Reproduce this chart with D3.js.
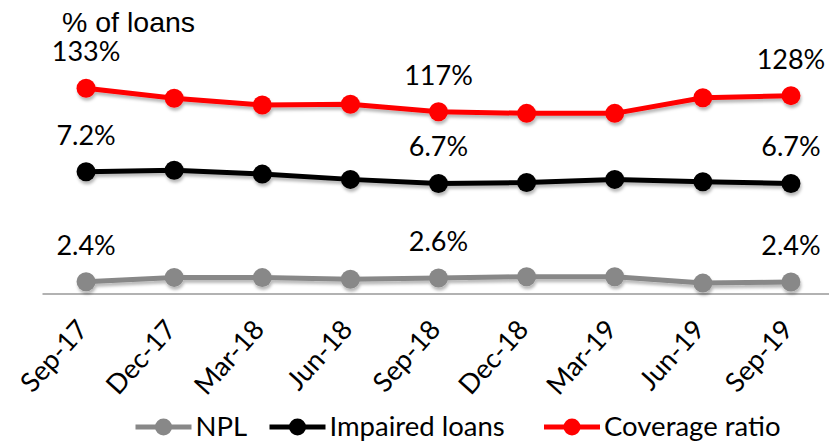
<!DOCTYPE html>
<html><head><meta charset="utf-8">
<script src="https://cdn.jsdelivr.net/npm/d3@7"></script>
<style>html,body{margin:0;padding:0;background:#fff;}svg{display:block;}</style>
</head><body>
<svg id="chart" width="829" height="442"></svg>
<script>
const categories = ["Sep-17","Dec-17","Mar-18","Jun-18","Sep-18","Dec-18","Mar-19","Jun-19","Sep-19"];
const npl = [2.40, 2.59, 2.58, 2.51, 2.56, 2.62, 2.62, 2.34, 2.39];
const impaired = [7.20, 7.27, 7.10, 6.87, 6.69, 6.73, 6.87, 6.77, 6.69];
const coverage = [133, 126.2, 121.6, 122.1, 117, 115.9, 115.9, 126.6, 128];
const labelIdx = [0, 4, 8];
const seriesNames = ["NPL", "Impaired loans", "Coverage ratio"];
const unitTitle = "% of loans";

const svg = d3.select("#chart");
const defs = svg.append("defs");
const f = defs.append("filter").attr("id","sh").attr("x","-20%").attr("y","-50%").attr("width","140%").attr("height","200%");
f.append("feDropShadow").attr("dx",1).attr("dy",3).attr("stdDeviation",1.8).attr("flood-color","#000").attr("flood-opacity",0.28);

const x = d3.scalePoint().domain(categories).range([42, 835]).padding(0.5);
const y1 = d3.scaleLinear().domain([2, 8]).range([290.9, 153.5]);
const y2 = d3.scaleLinear().domain([100, 140]).range([136.6, 78.1]);

// x axis
const ax = svg.append("g").attr("transform","translate(0,293.5)")
  .call(d3.axisBottom(x).tickSize(0).tickSizeOuter(0));
ax.select(".domain").attr("stroke","#999").attr("stroke-width",1.3);
ax.selectAll(".tick text")
  .attr("font-family","Lato, sans-serif").attr("font-size",27).attr("fill","#000")
  .attr("text-anchor","end").attr("dy",0).attr("y",0)
  .attr("transform","translate(3,37) rotate(-48)");

const series = [
  {name: seriesNames[0], vals: npl, y: y1, color: "#888888", fmt: d3.format(".1f")},
  {name: seriesNames[1], vals: impaired, y: y1, color: "#000000", fmt: d3.format(".1f")},
  {name: seriesNames[2], vals: coverage, y: y2, color: "#FF0000", fmt: d3.format(".0f")}
];

series.forEach(s => {
  const g = svg.append("g").attr("filter","url(#sh)");
  const line = d3.line().x((d,i) => x(categories[i])).y(d => s.y(d));
  g.append("path").datum(s.vals).attr("d", line)
    .attr("fill","none").attr("stroke", s.color).attr("stroke-width",5).attr("stroke-linejoin","round");
  g.selectAll("circle").data(s.vals).join("circle")
    .attr("cx",(d,i) => x(categories[i])).attr("cy", d => s.y(d)).attr("r",9.5).attr("fill", s.color);
  svg.append("g").selectAll("text").data(labelIdx).join("text")
    .attr("x", i => x(categories[i])).attr("y", i => s.y(s.vals[i]) - 27)
    .attr("text-anchor","middle").attr("font-family","Lato, sans-serif").attr("font-size",27).attr("fill","#000")
    .text(i => s.fmt(s.vals[i]) + "%");
});

svg.append("text").attr("x",62).attr("y",32)
  .attr("font-family","'Liberation Sans', Arial, sans-serif").attr("font-size",28.5).attr("fill","#000")
  .text(unitTitle);

// legend
const legX = [135.5, 269.5, 544];
const leg = svg.append("g");
series.forEach((s, k) => {
  const g = leg.append("g").attr("transform", `translate(${legX[k]},427)`);
  g.append("line").attr("x1",0).attr("x2",56).attr("y1",0).attr("y2",0).attr("stroke", s.color).attr("stroke-width",5);
  g.append("circle").attr("cx",28).attr("cy",0).attr("r",8.5).attr("fill", s.color);
  g.append("text").attr("x",60).attr("y",9).attr("font-family","Lato, sans-serif").attr("font-size",27.5).attr("fill","#000").text(s.name);
});
</script>
</body></html>
